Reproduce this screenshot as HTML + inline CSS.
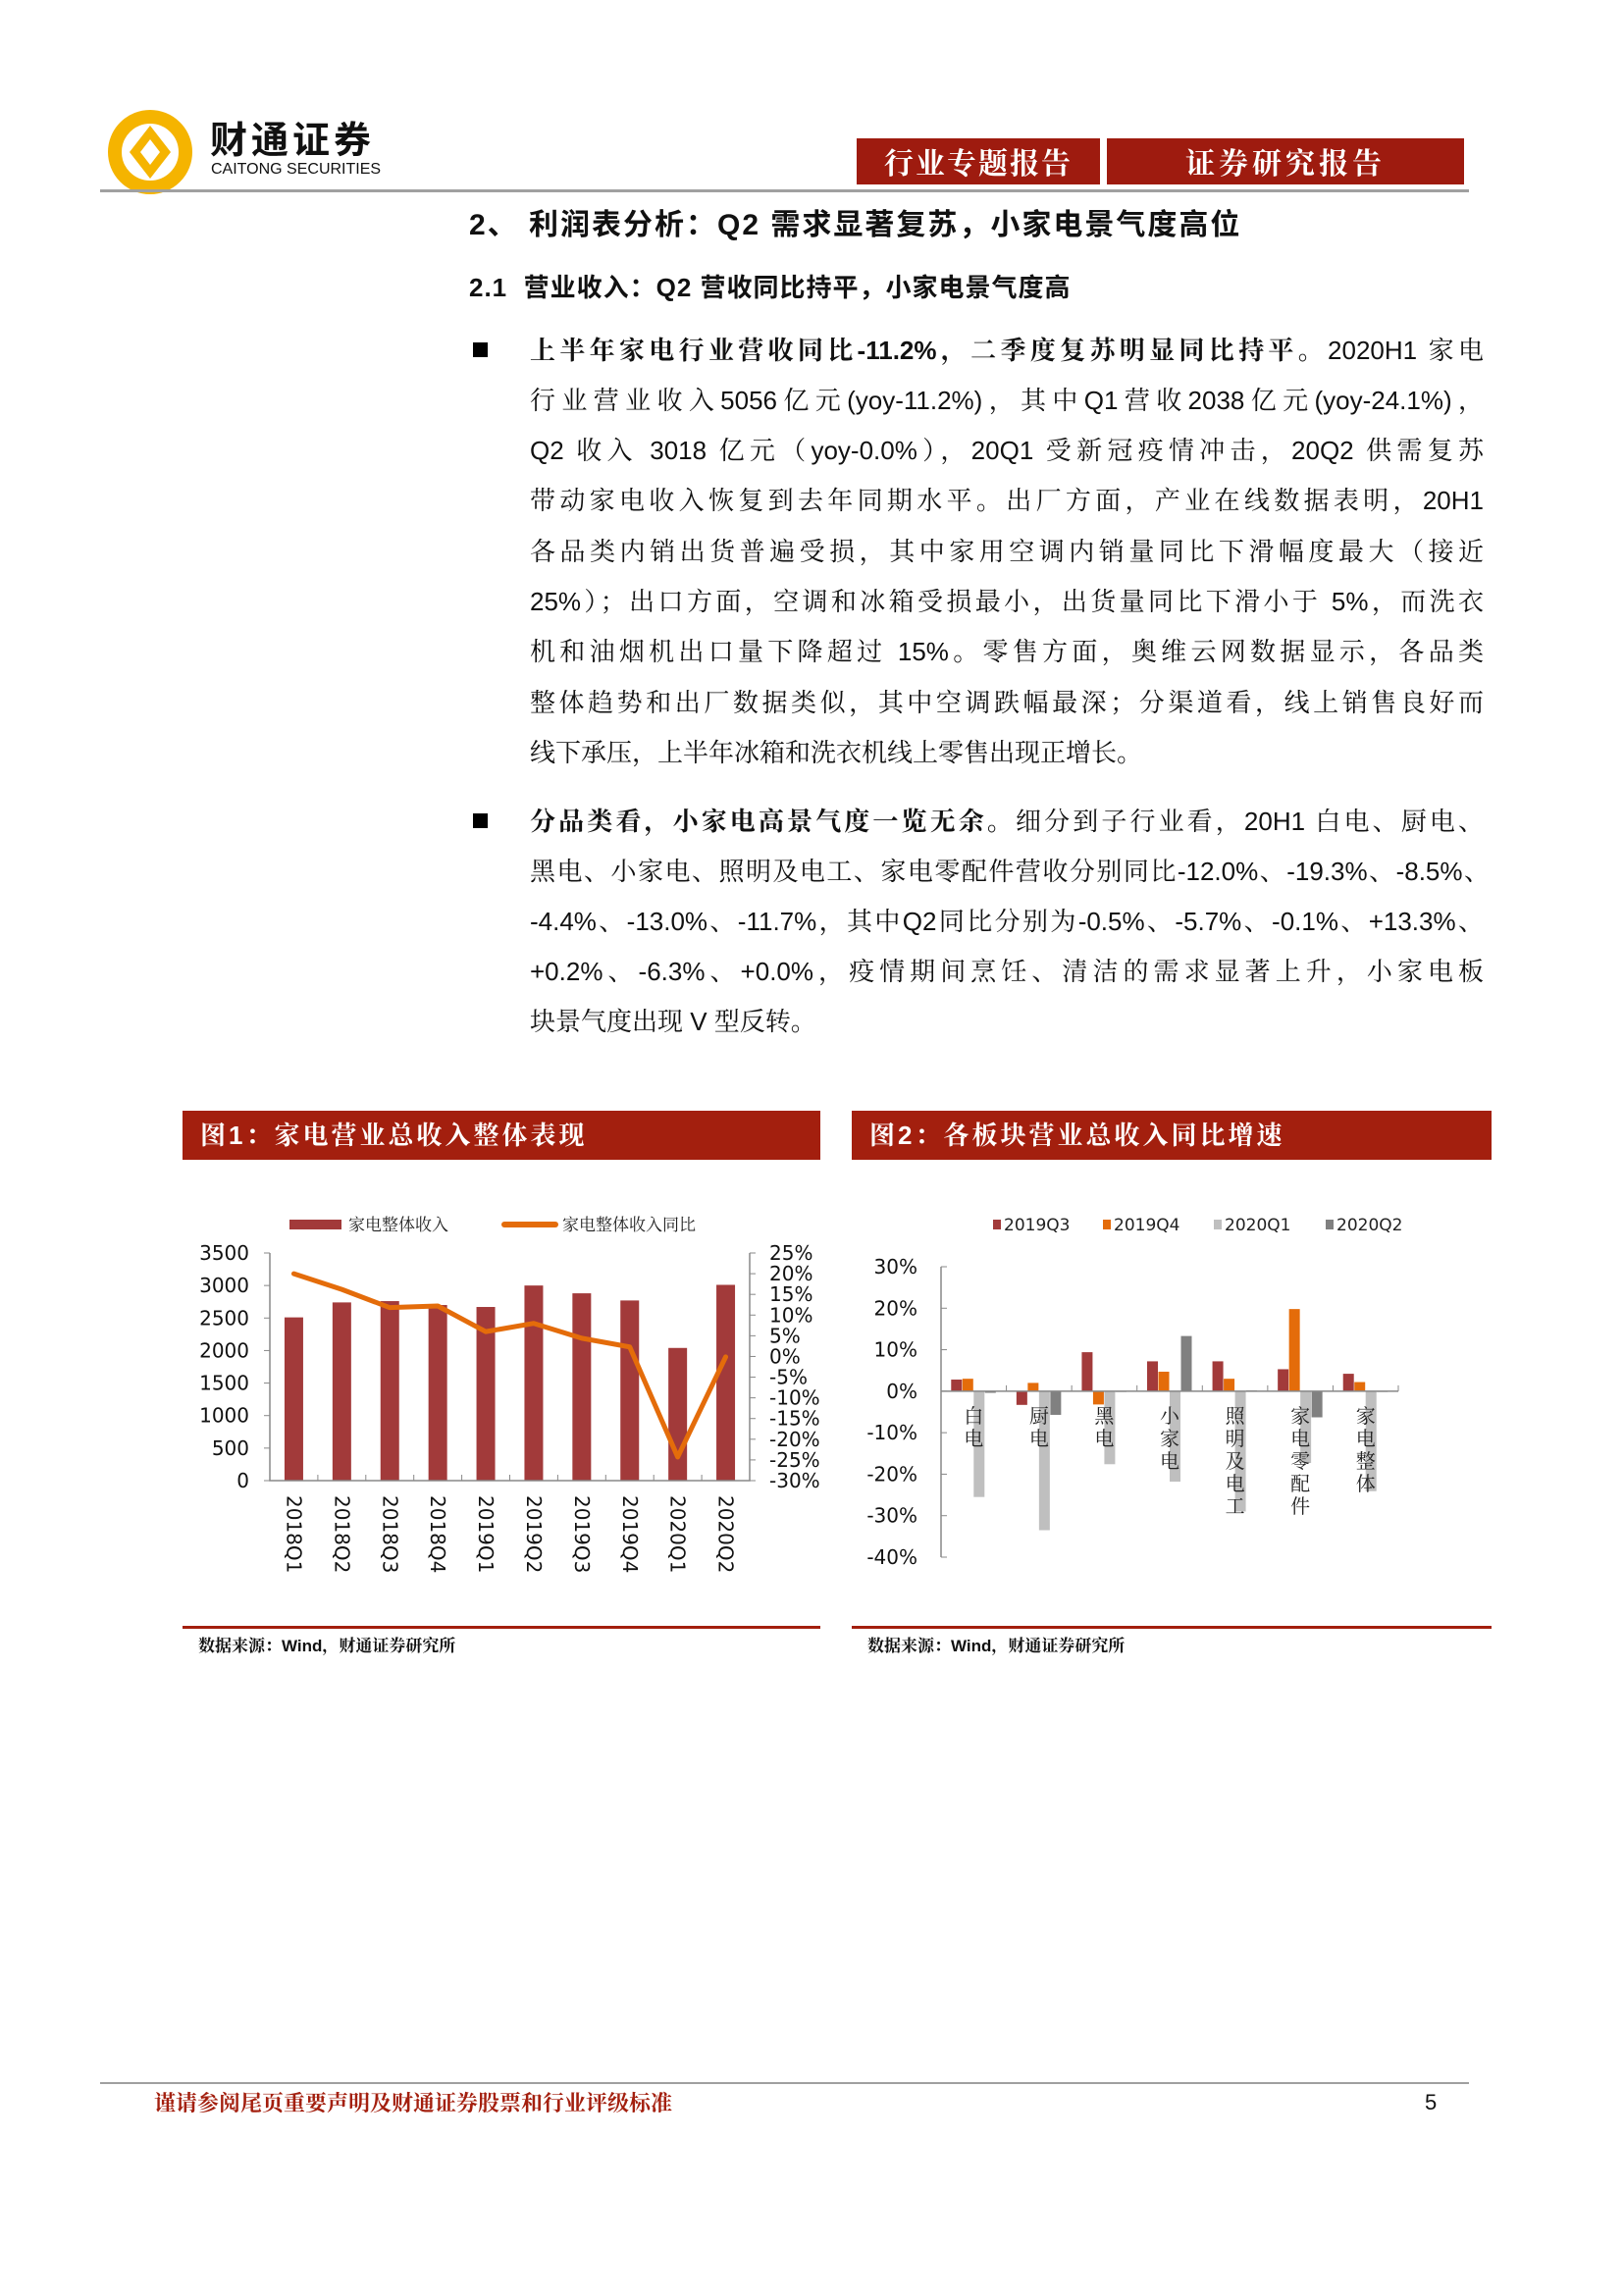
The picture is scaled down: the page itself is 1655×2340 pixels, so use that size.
<!DOCTYPE html>
<html><head><meta charset="utf-8">
<style>
body{margin:0;background:#fff;}
#page{position:relative;width:1655px;height:2340px;overflow:hidden;background:#fff;font-family:"Liberation Sans","Noto Sans CJK SC",sans-serif;color:#111;}
.abs{position:absolute;}
.hbox{position:absolute;top:141px;height:47px;background:#9e1b0f;color:#fff;font-family:"Noto Serif CJK SC","Liberation Serif",serif;font-weight:bold;font-size:30px;line-height:47px;text-align:center;letter-spacing:2px;}
.line{position:absolute;left:540px;width:972px;font-size:26px;line-height:30px;white-space:nowrap;text-align:justify;text-align-last:justify;font-family:"Liberation Sans","Noto Serif CJK SC",serif;}
.line.last{text-align-last:left;}
.bullet{position:absolute;left:482px;width:15px;height:15px;background:#000;}
.tbar{position:absolute;top:1132px;height:50px;background:#a31f0e;color:#fff;font-weight:bold;font-size:26px;line-height:50px;font-family:"Liberation Sans","Noto Serif CJK SC",serif;letter-spacing:3px;}
.src{position:absolute;top:1663px;font-size:17px;font-weight:bold;font-family:"Liberation Sans","Noto Serif CJK SC",serif;}
</style></head>
<body>
<div id="page">
  <svg class="abs" style="left:108px;top:110px" width="90" height="90">
    <circle cx="45" cy="45" r="36" fill="none" stroke="#f5b400" stroke-width="14"/>
    <path d="M45 18 L66 45 L45 72 L24 45 Z" fill="#f5b400"/>
    <path d="M45 32 L55 45 L45 58 L35 45 Z" fill="#fff"/>
  </svg>
  <div class="abs" style="left:214px;top:120px;font-size:38px;line-height:40px;font-weight:bold;letter-spacing:4px;font-family:'Noto Sans CJK SC',sans-serif;">财通证券</div>
  <div class="abs" style="left:215px;top:164px;font-size:16px;line-height:18px;">CAITONG SECURITIES</div>
  <div class="hbox" style="left:873px;width:248px;">行业专题报告</div>
  <div class="hbox" style="left:1128px;width:364px;letter-spacing:4px;">证券研究报告</div>
  <div class="abs" style="left:102px;top:193px;width:1395px;height:3px;background:#a0a0a0;"></div>

  <div class="abs" style="left:478px;top:204px;font-size:30px;font-weight:bold;letter-spacing:2px;font-family:'Liberation Sans','Noto Sans CJK SC',sans-serif;">2、 利润表分析：Q2 需求显著复苏，小家电景气度高位</div>
  <div class="abs" style="left:478px;top:273px;font-size:26px;font-weight:bold;letter-spacing:1px;font-family:'Liberation Sans','Noto Sans CJK SC',sans-serif;">2.1&nbsp; 营业收入：Q2 营收同比持平，小家电景气度高</div>

  <div class="bullet" style="top:349px"></div>
  <div>
  <div class="line" style="top:342px"><b>上半年家电行业营收同比-11.2%，二季度复苏明显同比持平。</b>2020H1 家电</div>
  <div class="line" style="top:393px">行业营业收入5056亿元(yoy-11.2%)，其中Q1营收2038亿元(yoy-24.1%)，</div>
  <div class="line" style="top:444px">Q2 收入 3018 亿元（yoy-0.0%），20Q1 受新冠疫情冲击，20Q2 供需复苏</div>
  <div class="line" style="top:495px">带动家电收入恢复到去年同期水平。出厂方面，产业在线数据表明，20H1</div>
  <div class="line" style="top:547px">各品类内销出货普遍受损，其中家用空调内销量同比下滑幅度最大（接近</div>
  <div class="line" style="top:598px">25%）；出口方面，空调和冰箱受损最小，出货量同比下滑小于 5%，而洗衣</div>
  <div class="line" style="top:649px">机和油烟机出口量下降超过 15%。零售方面，奥维云网数据显示，各品类</div>
  <div class="line" style="top:701px">整体趋势和出厂数据类似，其中空调跌幅最深；分渠道看，线上销售良好而</div>
  <div class="line last" style="top:752px">线下承压，上半年冰箱和洗衣机线上零售出现正增长。</div>
  </div>

  <div class="bullet" style="top:829px"></div>
  <div>
  <div class="line" style="top:822px"><b>分品类看，小家电高景气度一览无余。</b>细分到子行业看，20H1 白电、厨电、</div>
  <div class="line" style="top:873px;width:978px">黑电、小家电、照明及电工、家电零配件营收分别同比-12.0%、-19.3%、-8.5%、</div>
  <div class="line" style="top:924px">-4.4%、-13.0%、-11.7%，其中Q2同比分别为-0.5%、-5.7%、-0.1%、+13.3%、</div>
  <div class="line" style="top:975px">+0.2%、-6.3%、+0.0%，疫情期间烹饪、清洁的需求显著上升，小家电板</div>
  <div class="line last" style="top:1026px">块景气度出现 V 型反转。</div>
  </div>

  <div class="tbar" style="left:186px;width:650px;padding-left:18px;box-sizing:border-box;">图1：家电营业总收入整体表现</div>
  <div class="tbar" style="left:868px;width:652px;padding-left:18px;box-sizing:border-box;">图2：各板块营业总收入同比增速</div>

  <svg id="chart1" class="abs" style="left:0;top:0" width="1655" height="1760"></svg>
  <svg id="chart2" class="abs" style="left:0;top:0" width="1655" height="1760"></svg>

  <div class="abs" style="left:186px;top:1657px;width:650px;height:3px;background:#a31f0e;"></div>
  <div class="abs" style="left:868px;top:1657px;width:652px;height:3px;background:#a31f0e;"></div>
  <div class="src" style="left:202px">数据来源：Wind，财通证券研究所</div>
  <div class="src" style="left:884px">数据来源：Wind，财通证券研究所</div>

  <div class="abs" style="left:102px;top:2122px;width:1395px;height:2px;background:#a0a0a0;"></div>
  <div class="abs" style="left:157px;top:2129px;font-size:22px;line-height:28px;font-weight:bold;color:#a31f0e;font-family:'Noto Serif CJK SC',serif;">谨请参阅尾页重要声明及财通证券股票和行业评级标准</div>
  <div class="abs" style="left:1452px;top:2129px;font-size:22px;line-height:28px;">5</div>
</div>
<script>
const cats1 = ["2018Q1","2018Q2","2018Q3","2018Q4","2019Q1","2019Q2","2019Q3","2019Q4","2020Q1","2020Q2"];
const revenue = [2510,2740,2760,2700,2670,3000,2880,2770,2040,3010];
const yoy = [20.0,16.2,11.8,12.2,6.0,8.0,4.4,2.3,-24.3,-0.1];
const leftTicks = [0,500,1000,1500,2000,2500,3000,3500];
const rightTicks = [-30,-25,-20,-15,-10,-5,0,5,10,15,20,25];

const cats2 = ["白电","厨电","黑电","小家电","照明及电工","家电零配件","家电整体"];
const seriesNames = ["2019Q3","2019Q4","2020Q1","2020Q2"];
const s19q3 = [2.8,-3.3,9.4,7.2,7.2,5.3,4.2];
const s19q4 = [3.0,2.0,-3.2,4.7,3.0,19.8,2.2];
const s20q1 = [-25.5,-33.5,-17.6,-21.8,-29.0,-17.3,-24.1];
const s20q2 = [-0.4,-5.7,-0.1,13.3,0.2,-6.3,0.0];
const ticks2 = [-40,-30,-20,-10,0,10,20,30];

const NS="http://www.w3.org/2000/svg";
function mk(parent, tag, attrs, text){
  const e=document.createElementNS(NS,tag);
  for(const k in attrs) e.setAttribute(k,attrs[k]);
  if(text!==undefined) e.textContent=text;
  parent.appendChild(e); return e;
}
const FONT='"DejaVu Sans","Liberation Sans",sans-serif';

// ---- Chart 1 ----
const c1=document.getElementById('chart1');
const X0=275,X1=764,YB=1509,YT=1277;
const band1=(X1-X0)/cats1.length;
const xc1=i=>X0+band1*(i+0.5);
const yL=v=>YB-(v-0)/(3500-0)*(YB-YT);
const yR=v=>YB-(v+30)/(25+30)*(YB-YT);
revenue.forEach((v,i)=>{
  const r=mk(c1,'rect',{x:xc1(i)-9.5,y:yL(v),width:19,height:YB-yL(v),fill:'#a23a3a'});
  
  
});
let ax=mk(c1,'path',{d:`M${X0} ${YT}V${YB}H${X1}V${YT}`,stroke:'#888',fill:'none','stroke-width':1.5});


leftTicks.forEach(t=>{
  mk(c1,'line',{x1:X0-6,x2:X0,y1:yL(t),y2:yL(t),stroke:'#888'});
  const tx=mk(c1,'text',{x:254,y:yL(t)+7,'text-anchor':'end','font-size':20,'font-family':FONT,fill:'#111'},String(t));
  
  
});
rightTicks.forEach(t=>{
  mk(c1,'line',{x1:X1,x2:X1+6,y1:yR(t),y2:yR(t),stroke:'#888'});
  const tx=mk(c1,'text',{x:784,y:yR(t)+7,'font-size':20,'font-family':FONT,fill:'#111'},t+'%');
  
  
});
cats1.forEach((c,i)=>{
  mk(c1,'line',{x1:X0+band1*i,x2:X0+band1*i,y1:YB,y2:YB-6,stroke:'#888'});
  const tx=mk(c1,'text',{transform:`translate(${xc1(i)-7},1524) rotate(90)`,'font-size':20,'font-family':FONT,fill:'#111'},c);
  
  
});
const pts=yoy.map((v,i)=>`${xc1(i)},${yR(v)}`).join(' ');
const pl=mk(c1,'polyline',{points:pts,fill:'none',stroke:'#e46c0a','stroke-width':5,'stroke-linejoin':'round','stroke-linecap':'round'});


let lg=mk(c1,'rect',{x:295,y:1243,width:53,height:10,fill:'#a23a3a'});


let lt=mk(c1,'text',{x:355,y:1254,'font-size':17,'font-family':'"Noto Serif CJK SC",serif',fill:'#222'},'家电整体收入');


let ll=mk(c1,'line',{x1:514,x2:566,y1:1248,y2:1248,stroke:'#e46c0a','stroke-width':6,'stroke-linecap':'round'});


let lt2=mk(c1,'text',{x:573,y:1254,'font-size':17,'font-family':'"Noto Serif CJK SC",serif',fill:'#222'},'家电整体收入同比');



// ---- Chart 2 ----
const c2=document.getElementById('chart2');
const A0=959,A1=1425,Y30=1291,Ym40=1587;
const band2=(A1-A0)/cats2.length;
const xc2=i=>A0+band2*(i+0.5);
const yS=v=>Y30+(30-v)/70*(Ym40-Y30);
const colors=['#a23a3a','#e46c0a','#bfbfbf','#808080'];
const allSeries=[s19q3,s19q4,s20q1,s20q2];
allSeries.forEach((s,si)=>{
  s.forEach((v,i)=>{
    const x=xc2(i)-23+si*11.5;
    const y=Math.min(yS(v),yS(0));
    const r=mk(c2,'rect',{x:x,y:y,width:11,height:Math.max(Math.abs(yS(v)-yS(0)),0.8),fill:colors[si]});
    
    
  });
});
let ax2=mk(c2,'path',{d:`M${A0} ${Y30}V${Ym40}M${A0} ${yS(0)}H${A1}`,stroke:'#888',fill:'none','stroke-width':1.5});


ticks2.forEach(t=>{
  mk(c2,'line',{x1:A0,x2:A0+6,y1:yS(t),y2:yS(t),stroke:'#888'});
  const tx=mk(c2,'text',{x:935,y:yS(t)+7,'text-anchor':'end','font-size':20,'font-family':FONT,fill:'#111'},t+'%');
  
  
});
cats2.forEach((c,i)=>{
  mk(c2,'line',{x1:A0+band2*(i+1),x2:A0+band2*(i+1),y1:yS(0),y2:yS(0)-6,stroke:'#888'});
  const g=mk(c2,'text',{'text-anchor':'middle','font-size':20,'font-family':'"Noto Serif CJK SC",serif',fill:'#222'});
  
  
  [...c].forEach((ch,k)=>{ mk(g,'tspan',{x:xc2(i),y:1450+k*23},ch); });
});
const legX=[1012,1124,1237,1351];
seriesNames.forEach((n,si)=>{
  const r=mk(c2,'rect',{x:legX[si],y:1243,width:8,height:10,fill:colors[si]});
  
  
  const t=mk(c2,'text',{x:legX[si]+11,y:1254,'font-size':17,'font-family':FONT,fill:'#222'},n);
  
  
});
</script>
</body></html>
